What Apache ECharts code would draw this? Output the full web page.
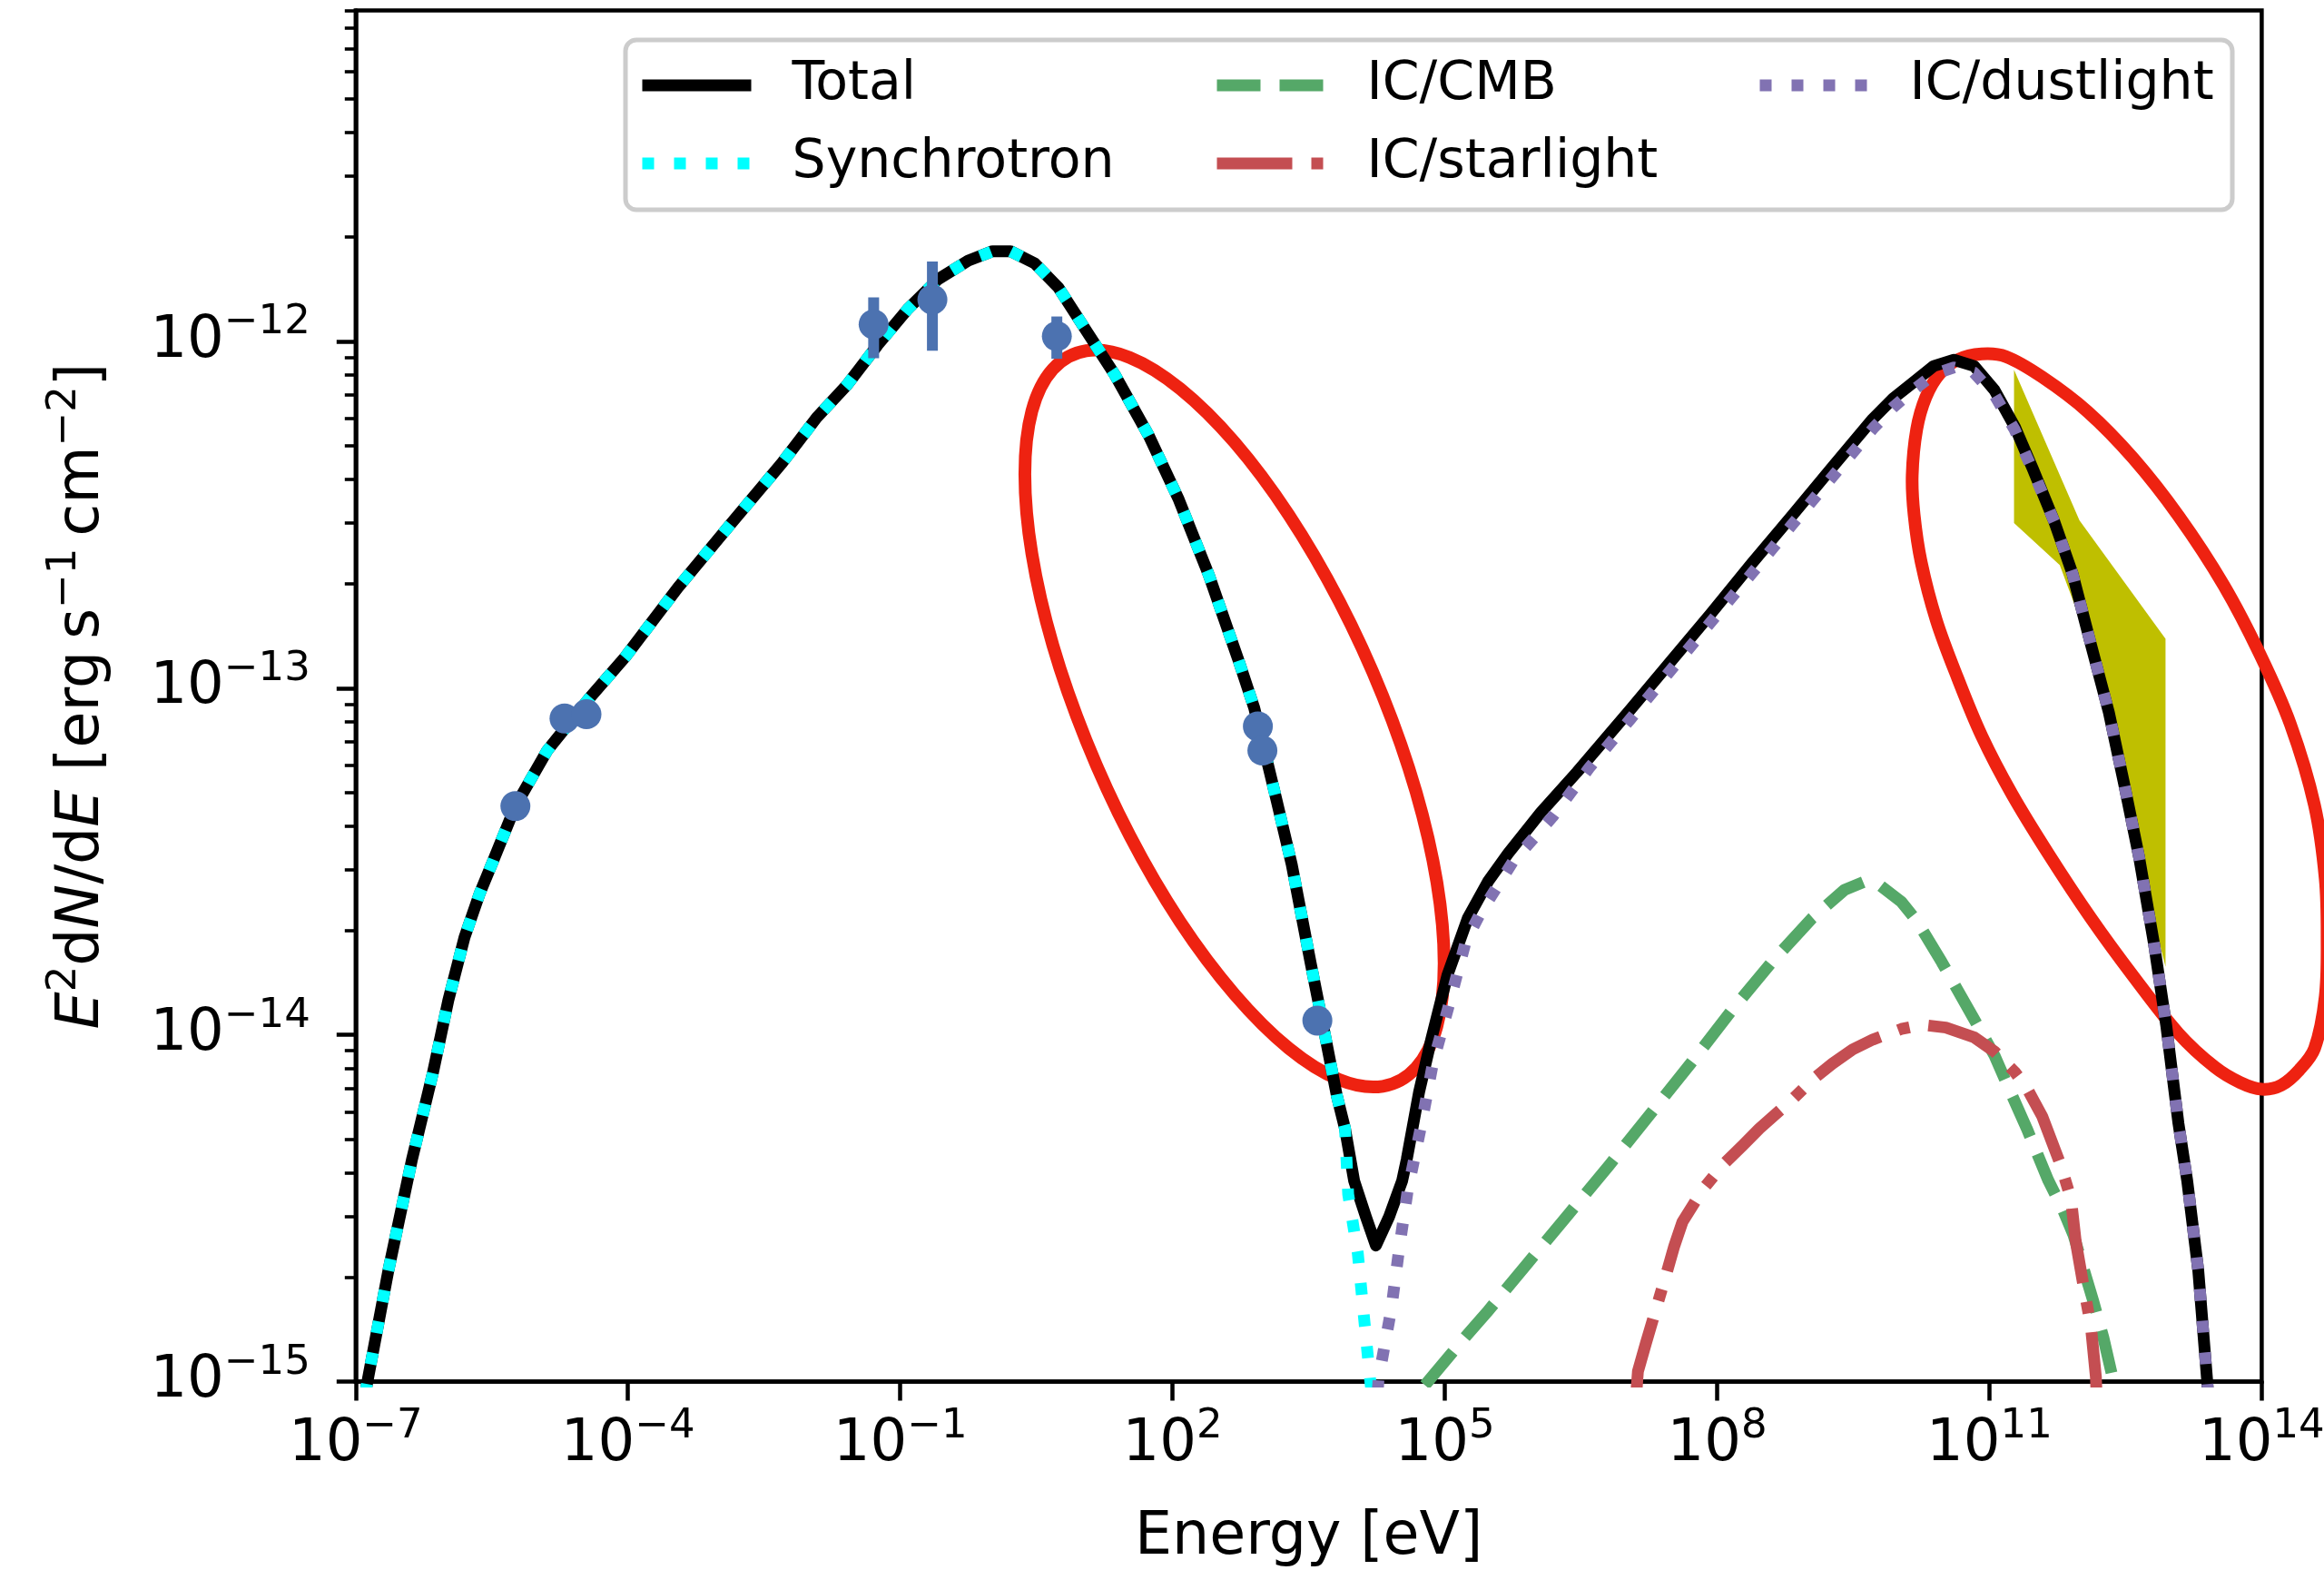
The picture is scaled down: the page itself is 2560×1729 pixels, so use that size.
<!DOCTYPE html>
<html>
<head>
<meta charset="utf-8">
<script src="https://cdn.jsdelivr.net/npm/echarts@6/dist/echarts.min.js"></script>
<style>
  html, body { margin: 0; padding: 0; background: #ffffff; }
  #chart { width: 2560px; height: 1729px; }
</style>
</head>
<body>
<div id="chart"></div>
<script>
// Energy in eV, flux as E^2 dN/dE in erg s^-1 cm^-2

const totalE = [1.26e-7, 2.29e-7, 4.17e-7, 7.08e-7, 1.05e-6, 1.58e-6, 2.34e-6, 3.24e-6, 5.75e-6, 1.29e-5,
  3.72e-5, 9.33e-5, 3.55e-4, 1.32e-3, 5.01e-3, 1.20e-2, 2.60e-2, 5.61e-2, 1.21e-1, 2.60e-1,
  5.61e-1, 1.04, 1.64, 3.03, 5.53, 10.8, 23.2, 54.7, 117, 251,
  541, 794, 1403, 2056, 3311, 4853, 6457, 7943,
  1.0e4, 1.35e4, 1.74e4, 2.43e4, 3.39e4, 3.80e4, 5.20e4, 7.08e4, 1.07e5, 1.79e5,
  2.99e5, 4.99e5, 1.14e6, 2.86e6, 1.09e7, 3.05e7, 8.51e7, 2.38e8, 6.65e8, 1.86e9,
  5.20e9, 8.69e9, 1.45e10, 2.43e10, 4.06e10, 6.79e10, 1.14e11, 1.90e11, 3.03e11, 5.19e11,
  8.22e11, 1.30e12, 2.07e12, 3.02e12, 4.46e12, 6.53e12, 8.89e12, 1.21e13, 1.51e13, 2.00e13,
  2.51e13, 2.57e13];
const totalF = [9.12e-16, 2.09e-15, 4.37e-15, 7.76e-15, 1.26e-14, 1.91e-14, 2.57e-14, 3.16e-14, 4.57e-14, 6.61e-14,
  9.33e-14, 1.23e-13, 1.95e-13, 2.95e-13, 4.47e-13, 6.03e-13, 7.50e-13, 9.75e-13, 1.24e-12, 1.51e-12,
  1.71e-12, 1.82e-12, 1.82e-12, 1.68e-12, 1.43e-12, 1.09e-12, 8.00e-13, 5.35e-13, 3.50e-13, 2.12e-13,
  1.19e-13, 8.77e-14, 4.74e-14, 3.10e-14, 1.62e-14, 9.79e-15, 6.68e-15, 5.37e-15,
  3.80e-15, 2.99e-15, 2.47e-15, 2.99e-15, 3.80e-15, 4.37e-15, 6.84e-15, 9.70e-15, 1.49e-14, 2.17e-14,
  2.77e-14, 3.34e-14, 4.38e-14, 5.73e-14, 8.63e-14, 1.19e-13, 1.64e-13, 2.28e-13, 3.14e-13, 4.34e-13,
  5.98e-13, 6.85e-13, 7.62e-13, 8.49e-13, 8.85e-13, 8.49e-13, 7.23e-13, 5.68e-13, 4.27e-13, 3.02e-13,
  2.14e-13, 1.35e-13, 8.51e-14, 5.36e-14, 3.25e-14, 1.82e-14, 1.06e-14, 5.55e-15, 3.80e-15, 2.09e-15,
  1.0e-15, 9.12e-16];

const synchrotronE = [1.26e-7, 2.29e-7, 4.17e-7, 7.08e-7, 1.05e-6, 1.58e-6, 2.34e-6, 3.24e-6, 5.75e-6, 1.29e-5,
  3.72e-5, 9.33e-5, 3.55e-4, 1.32e-3, 5.01e-3, 1.20e-2, 2.60e-2, 5.61e-2, 1.21e-1, 2.60e-1,
  5.61e-1, 1.04, 1.64, 3.03, 5.53, 10.8, 23.2, 54.7, 117, 251,
  541, 794, 1403, 2056, 3311, 4853, 6457, 7943, 8610, 1.10e4,
  1.26e4, 1.51e4, 1.58e4];
const synchrotronF = [9.12e-16, 2.09e-15, 4.37e-15, 7.76e-15, 1.26e-14, 1.91e-14, 2.57e-14, 3.16e-14, 4.57e-14, 6.61e-14,
  9.33e-14, 1.23e-13, 1.95e-13, 2.95e-13, 4.47e-13, 6.03e-13, 7.50e-13, 9.75e-13, 1.24e-12, 1.51e-12,
  1.71e-12, 1.82e-12, 1.82e-12, 1.68e-12, 1.43e-12, 1.09e-12, 8.00e-13, 5.35e-13, 3.50e-13, 2.12e-13,
  1.19e-13, 8.77e-14, 4.74e-14, 3.10e-14, 1.62e-14, 9.79e-15, 6.68e-15, 5.37e-15, 3.47e-15, 2.34e-15,
  1.62e-15, 1.0e-15, 9.12e-16];

const cmbE = [6.03e4, 1.66e5, 2.99e5, 8.34e5, 2.33e6, 6.52e6, 1.82e7, 5.09e7, 1.42e8, 3.98e8,
  1.11e9, 2.53e9, 4.24e9, 5.77e9, 1.07e10, 1.61e10, 2.99e10, 6.79e10, 1.14e11, 1.71e11,
  2.58e11, 4.46e11, 6.53e11, 8.43e11, 1.40e12, 1.80e12, 2.33e12, 2.40e12];
const cmbF = [9.77e-16, 1.34e-15, 1.60e-15, 2.21e-15, 3.05e-15, 4.22e-15, 5.90e-15, 8.26e-15, 1.17e-14, 1.62e-14,
  2.17e-14, 2.62e-14, 2.77e-14, 2.74e-14, 2.42e-14, 2.12e-14, 1.62e-14, 1.11e-14, 8.71e-15, 6.84e-15,
  5.37e-15, 3.80e-15, 3.11e-15, 2.65e-15, 1.70e-15, 1.34e-15, 1.0e-15, 9.33e-16];

const starlightE = [1.29e7, 1.34e7, 1.64e7, 2.75e7, 3.37e7, 4.15e7, 6.93e7, 1.16e8, 1.94e8, 2.92e8,
  6.65e8, 1.11e9, 1.86e9, 3.11e9, 5.20e9, 1.07e10, 1.78e10, 3.31e10, 6.79e10, 1.14e11,
  1.90e11, 2.58e11, 3.82e11, 6.05e11, 7.91e11, 8.91e11, 1.09e12, 1.31e12, 1.49e12, 1.51e12];
const starlightF = [9.33e-16, 1.07e-15, 1.29e-15, 2.04e-15, 2.46e-15, 2.89e-15, 3.58e-15, 4.22e-15, 4.82e-15, 5.37e-15,
  6.49e-15, 7.41e-15, 8.26e-15, 9.08e-15, 9.70e-15, 1.04e-14, 1.07e-14, 1.05e-14, 9.84e-15, 8.95e-15,
  7.82e-15, 7.03e-15, 5.82e-15, 4.24e-15, 3.37e-15, 2.55e-15, 1.88e-15, 1.45e-15, 1.03e-15, 9.33e-16];

const dustlightE = [1.82e4, 1.86e4, 2.57e4, 3.16e4, 3.89e4, 5.50e4, 7.41e4, 1.12e5, 1.70e5, 2.45e5,
  5.62e5, 1.55e6, 3.89e6, 1.10e7, 3.02e7, 8.51e7, 2.40e8, 6.61e8, 1.86e9, 5.25e9,
  8.71e9, 1.45e10, 2.45e10, 4.07e10, 6.76e10, 1.14e11, 1.90e11, 3.03e11, 5.19e11, 8.22e11,
  1.30e12, 2.07e12, 3.02e12, 4.46e12, 6.53e12, 8.89e12, 1.21e13, 1.51e13, 2.00e13, 2.51e13,
  2.57e13];
const dustlightF = [9.33e-16, 1.02e-15, 1.62e-15, 2.45e-15, 3.55e-15, 5.50e-15, 8.32e-15, 1.23e-14, 1.86e-14, 2.24e-14,
  3.16e-14, 4.27e-14, 5.89e-14, 8.13e-14, 1.12e-13, 1.55e-13, 2.14e-13, 2.95e-13, 4.07e-13, 5.62e-13,
  6.46e-13, 7.24e-13, 8.04e-13, 8.41e-13, 8.13e-13, 7.00e-13, 5.56e-13, 4.22e-13, 3.02e-13, 2.14e-13,
  1.35e-13, 8.51e-14, 5.36e-14, 3.25e-14, 1.82e-14, 1.06e-14, 5.55e-15, 3.80e-15, 2.09e-15, 1.0e-15,
  9.12e-16];

// measured flux points
const pointE = [5.75e-6, 2.00e-5, 3.49e-5, 5.09e-2, 2.26e-1, 5.31, 871, 977, 3.94e3];
const pointF = [4.57e-14, 8.18e-14, 8.41e-14, 1.12e-12, 1.32e-12, 1.035e-12, 7.76e-14, 6.61e-14, 1.10e-14];
const errE = [5.09e-2, 2.26e-1, 5.31];
const errLow = [8.95e-13, 9.40e-13, 8.91e-13];
const errHigh = [1.34e-12, 1.70e-12, 1.18e-12];

// confidence contours (closed outlines)
const contourLowE = [9.82e4, 8.18e4, 4.82e4, 2.07e4, 6.87e3, 1.91e3, 481, 121, 33.7, 11.2,
  4.80, 2.82, 2.36, 2.82, 4.80, 11.2, 33.7, 121, 481, 1.91e3,
  6.87e3, 2.07e4, 4.82e4, 8.18e4];
const contourLowF = [1.61e-14, 1.06e-14, 8.04e-15, 7.11e-15, 7.43e-15, 9.15e-15, 1.31e-14, 2.12e-14, 3.76e-14, 7.05e-14,
  1.33e-13, 2.44e-13, 4.14e-13, 6.30e-13, 8.32e-13, 9.40e-13, 8.99e-13, 7.31e-13, 5.12e-13, 3.16e-13,
  1.78e-13, 9.49e-14, 5.02e-14, 2.75e-14];
const contourHighE = [2.81e10, 4.46e10, 8.22e10, 1.52e11, 3.82e11, 1.21e12, 3.82e12, 1.21e13, 3.82e13, 9.59e13,
  2.07e14, 3.82e14, 5.01e14, 5.25e14, 5.01e14, 3.82e14, 2.60e14, 1.64e14, 1.00e14, 5.78e13,
  3.03e13, 1.21e13, 3.82e12, 1.30e12, 4.46e11, 1.77e11, 8.22e10, 4.46e10, 2.60e10, 1.77e10,
  1.48e10, 1.41e10, 1.58e10, 1.99e10];
const contourHighF = [8.05e-13, 8.85e-13, 9.20e-13, 9.04e-13, 7.89e-13, 6.27e-13, 4.61e-13, 3.14e-13, 1.98e-13, 1.25e-13,
  7.87e-14, 4.59e-14, 2.82e-14, 1.91e-14, 1.29e-14, 9.14e-15, 7.93e-15, 7.16e-15, 6.97e-15, 7.29e-15,
  8.08e-15, 1.01e-14, 1.48e-14, 2.18e-14, 3.33e-14, 4.95e-14, 7.28e-14, 1.07e-13, 1.57e-13, 2.31e-13,
  3.16e-13, 4.11e-13, 5.58e-13, 6.90e-13];

// high-energy spectral band (outline vertices)
const bandE = [2.00e11, 9.23e11, 8.13e12, 8.13e12, 5.01e12, 2.51e12, 1.26e12, 6.31e11, 2.00e11];
const bandF = [7.59e-13, 3.02e-13, 1.38e-13, 1.82e-14, 3.02e-14, 6.92e-14, 1.41e-13, 2.29e-13, 3.02e-13];

// axis ticks
const xTicks = [1e-7, 1e-4, 1e-1, 1e2, 1e5, 1e8, 1e11, 1e14];
const yTicks = [1e-15, 1e-14, 1e-13, 1e-12];
const yMinorTicks = [2e-15, 3e-15, 4e-15, 5e-15, 6e-15, 7e-15, 8e-15, 9e-15,
  2e-14, 3e-14, 4e-14, 5e-14, 6e-14, 7e-14, 8e-14, 9e-14,
  2e-13, 3e-13, 4e-13, 5e-13, 6e-13, 7e-13, 8e-13, 9e-13,
  2e-12, 3e-12, 4e-12, 5e-12, 6e-12, 7e-12, 8e-12, 9e-12];

const FONT = 'DejaVu Sans';
const FS_TICK = 64;
const FS_NAME = 65;
const FS_SUP = 45;
const FS_LEGEND = 58.5;
const SUP_RAISE = 30;

const zip = (xs, ys) => xs.map((x, i) => [x, ys[i]]);

const labelRich = {
  b: { fontFamily: FONT, fontSize: FS_TICK, lineHeight: FS_TICK, verticalAlign: 'bottom', color: '#000' },
  s: { fontFamily: FONT, fontSize: FS_SUP, lineHeight: FS_SUP, padding: [0, 0, SUP_RAISE, 0], verticalAlign: 'bottom', color: '#000' }
};

function powerLabel(v) {
  const lg = Math.log10(v);
  const e = Math.round(lg);
  if (Math.abs(lg - e) > 1e-6) return '';
  const exp = e < 0 ? '\u2212' + (-e) : String(e);
  return '{b|10}{s|' + exp + '}';
}

const nameRich = {
  n: { fontFamily: FONT, fontSize: FS_NAME, lineHeight: FS_NAME, verticalAlign: 'bottom', color: '#000' },
  i: { fontFamily: FONT, fontSize: FS_NAME, lineHeight: FS_NAME, fontStyle: 'italic', verticalAlign: 'bottom', color: '#000' },
  s: { fontFamily: FONT, fontSize: FS_SUP, lineHeight: FS_SUP, padding: [0, 0, SUP_RAISE, 0], verticalAlign: 'bottom', color: '#000' }
};

function curve(name, xs, ys, color, dash) {
  return {
    type: 'line', name: name, data: zip(xs, ys),
    showSymbol: false, symbol: 'none', smooth: false, silent: true, z: 4,
    itemStyle: { color: color },
    lineStyle: { color: color, width: 13, type: dash, cap: 'butt', join: 'round' },
    emphasis: { disabled: true }
  };
}

function contour(xs, ys) {
  return {
    type: 'custom', silent: true, z: 2, clip: false,
    data: zip(xs, ys),
    renderItem: function (params, api) {
      if (params.dataIndex !== 0) return;
      const pts = xs.map((x, i) => api.coord([x, ys[i]]));
      return {
        type: 'polygon',
        shape: { points: pts, smooth: 0.35 },
        style: { fill: 'none', stroke: '#ee2211', lineWidth: 14, lineJoin: 'round' }
      };
    }
  };
}

const legendBase = {
  orient: 'vertical', top: 59, padding: 0, itemWidth: 120, itemHeight: 13, itemGap: 16,
  selectedMode: false, z: 10,
  lineStyle: { width: 13 },
  itemStyle: { opacity: 0 },
  textStyle: { fontFamily: FONT, fontSize: FS_LEGEND, color: '#000', lineHeight: 70, padding: [0, 0, 0, 40] }
};

const option = {
  animation: false,
  backgroundColor: '#ffffff',
  grid: {
    left: 391.8, right: 68.6, top: 11.6, bottom: 207.4,
    show: true, borderColor: '#000', borderWidth: 4.5, backgroundColor: 'transparent',
    containLabel: false, outerBoundsMode: 'none'
  },
  legend: [
    Object.assign({}, legendBase, { left: 701, data: ['Total', 'Synchrotron'] }),
    Object.assign({}, legendBase, { left: 1334, data: ['IC/CMB', 'IC/starlight'] }),
    Object.assign({}, legendBase, { left: 1932, data: ['IC/dustlight'] })
  ],
  graphic: [{
    type: 'rect', z: 9, silent: true,
    shape: { x: 689, y: 44, width: 1770, height: 187, r: 12 },
    style: { fill: 'rgba(255,255,255,0.8)', stroke: '#cccccc', lineWidth: 5 }
  }],
  xAxis: {
    type: 'log', logBase: 10, min: 1e-7, max: 1e14, interval: 3,
    axisLine: { show: true, onZero: false, lineStyle: { color: '#000', width: 4.5 } },
    axisTick: { show: true, length: 21, customValues: xTicks, lineStyle: { color: '#000', width: 4.5 } },
    minorTick: { show: false },
    splitLine: { show: false },
    axisLabel: {
      customValues: xTicks, formatter: powerLabel, margin: 38, rich: labelRich,
      fontFamily: FONT, fontSize: FS_TICK, color: '#000', showMinLabel: true, showMaxLabel: true, hideOverlap: false
    },
    name: 'Energy [eV]', nameLocation: 'middle', nameGap: 140,
    nameTextStyle: { fontFamily: FONT, fontSize: FS_NAME, color: '#000' }
  },
  yAxis: [{
    type: 'log', logBase: 10, min: 1e-15, max: 9e-12, interval: 1,
    axisLine: { show: true, onZero: false, lineStyle: { color: '#000', width: 4.5 } },
    axisTick: { show: true, length: 21, customValues: yTicks, lineStyle: { color: '#000', width: 4.5 } },
    minorTick: { show: false },
    splitLine: { show: false },
    axisLabel: {
      customValues: yTicks, formatter: powerLabel, margin: 50, rich: labelRich,
      fontFamily: FONT, fontSize: FS_TICK, color: '#000', showMinLabel: true, showMaxLabel: true
    },
    name: '{i|E}{s|2}{n|d}{i|N}{n|/d}{i|E}{n| [erg\u2009s}{s|\u22121}{n|\u2009cm}{s|\u22122}{n|]}',
    nameLocation: 'middle', nameRotate: 90, nameGap: 268,
    nameTextStyle: { fontFamily: FONT, fontSize: FS_NAME, color: '#000', rich: nameRich }
  }, {
    type: 'log', logBase: 10, min: 1e-15, max: 9e-12, position: 'left',
    axisLine: { show: false },
    axisTick: { show: true, length: 12, customValues: yMinorTicks, lineStyle: { color: '#000', width: 3.6 } },
    axisLabel: { show: false },
    splitLine: { show: false }
  }],
  series: [
    contour(contourLowE, contourLowF),
    contour(contourHighE, contourHighF),
    {
      type: 'custom', silent: true, z: 3, clip: false,
      data: zip(bandE, bandF),
      renderItem: function (params, api) {
        if (params.dataIndex !== 0) return;
        const pts = bandE.map((x, i) => api.coord([x, bandF[i]]));
        return {
          type: 'polygon', shape: { points: pts },
          style: { fill: '#bfbf00', stroke: '#bfbf00', lineWidth: 6, lineJoin: 'miter', miterLimit: 10 }
        };
      }
    },
    curve('Total', totalE, totalF, '#000000', 'solid'),
    curve('Synchrotron', synchrotronE, synchrotronF, '#00ffff', [13, 22]),
    curve('IC/CMB', cmbE, cmbF, '#55a868', [48, 21]),
    curve('IC/starlight', starlightE, starlightF, '#c44e52', [83, 21, 13, 21]),
    curve('IC/dustlight', dustlightE, dustlightF, '#8172b2', [13, 22]),
    {
      type: 'custom', silent: true, z: 5,
      data: errE.map((x, i) => [x, errLow[i], errHigh[i]]),
      encode: { x: 0, y: [1, 2] },
      renderItem: function (params, api) {
        const x = api.value(0);
        const a = api.coord([x, api.value(1)]);
        const b = api.coord([x, api.value(2)]);
        return {
          type: 'line',
          shape: { x1: a[0], y1: a[1], x2: b[0], y2: b[1] },
          style: { stroke: '#4c72b0', lineWidth: 12 }
        };
      }
    },
    {
      type: 'scatter', silent: true, z: 6,
      data: zip(pointE, pointF),
      symbol: 'circle', symbolSize: 33,
      itemStyle: { color: '#4c72b0', opacity: 1 },
      emphasis: { disabled: true }
    }
  ]
};

const chart = echarts.init(document.getElementById('chart'), null, { renderer: 'canvas', width: 2560, height: 1729 });
chart.setOption(option);
</script>
</body>
</html>
